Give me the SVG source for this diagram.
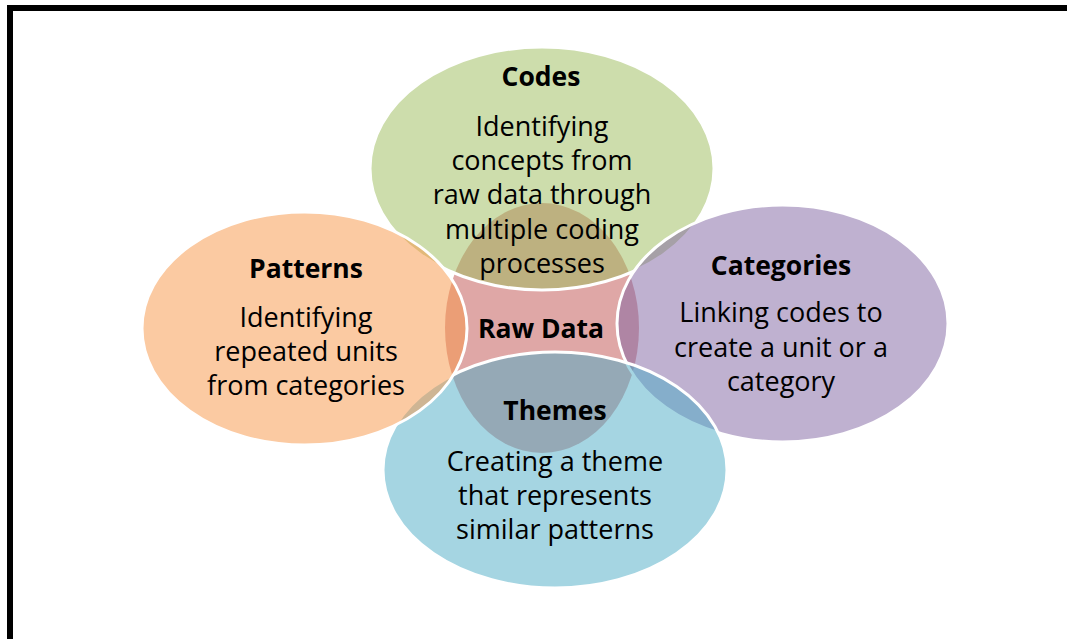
<svg xmlns="http://www.w3.org/2000/svg" width="1067" height="639" viewBox="0 0 1067 639">
<style>
.sh{fill-opacity:0.5;stroke:#fff;stroke-width:3}
.t{font-family:"Open Sans","Liberation Sans",sans-serif;font-size:27px;fill:#000;text-anchor:middle}
.b{font-weight:bold;font-size:26.5px}
</style>
<rect width="1067" height="639" fill="#fff"/>
<path d="M10,639 V8 H1067" fill="none" stroke="#000" stroke-width="6"/>
<g id="rawdata-shape"><ellipse cx="542" cy="328" rx="97" ry="125" fill="#C0504D" fill-opacity="0.5"/></g>
<g id="codes-shape"><ellipse class="sh" cx="542" cy="168.5" rx="172" ry="121.5" fill="#9BBB59"/></g>
<g id="categories-shape"><ellipse class="sh" cx="782.5" cy="323.5" rx="165.5" ry="118.5" fill="#8064A2"/></g>
<g id="themes-shape"><ellipse class="sh" cx="555" cy="470" rx="172" ry="118" fill="#4BACC6"/></g>
<g id="patterns-shape"><ellipse class="sh" cx="304.5" cy="328.5" rx="162.5" ry="116.5" fill="#F79646"/></g>
<g id="connectors"></g>
<g id="rawdata"><text class="t b" x="541" y="338">Raw Data</text></g>
<g id="codes">
<text class="t b" x="541" y="86">Codes</text>
<text class="t" x="542" y="136">Identifying</text>
<text class="t" x="542" y="170">concepts from</text>
<text class="t" x="542" y="204">raw data through</text>
<text class="t" x="542" y="239">multiple coding</text>
<text class="t" x="542" y="273">processes</text>
</g>
<g id="patterns">
<text class="t b" x="306" y="278">Patterns</text>
<text class="t" x="306" y="327">Identifying</text>
<text class="t" x="306" y="361">repeated units</text>
<text class="t" x="306" y="395">from categories</text>
</g>
<g id="categories">
<text class="t b" x="781" y="275">Categories</text>
<text class="t" x="781" y="322">Linking codes to</text>
<text class="t" x="781" y="357">create a unit or a</text>
<text class="t" x="781" y="391">category</text>
</g>
<g id="themes">
<text class="t b" x="555" y="420">Themes</text>
<text class="t" x="555" y="471">Creating a theme</text>
<text class="t" x="555" y="505">that represents</text>
<text class="t" x="555" y="539">similar patterns</text>
</g>
</svg>
